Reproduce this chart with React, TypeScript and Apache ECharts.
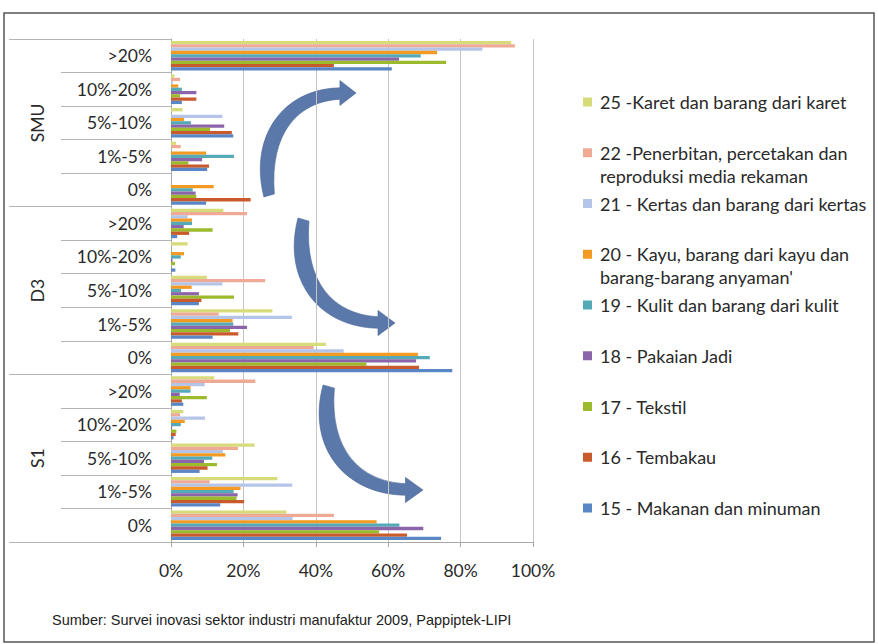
import React, { useEffect, useRef } from "react";
import * as echarts from "echarts";

// Categories, bottom to top (S1 0% ... SMU >20%)
const groups = ["S1", "D3", "SMU"];
const levels = ["0%", "1%-5%", "5%-10%", "10%-20%", ">20%"];
const xTicks = [0, 20, 40, 60, 80, 100];

const seriesNames = [
  "25 -Karet dan barang dari karet",
  "22 -Penerbitan, percetakan dan\nreproduksi media rekaman",
  "21 - Kertas dan barang dari kertas",
  "20 - Kayu, barang dari kayu dan\nbarang-barang anyaman'",
  "19 - Kulit dan barang dari kulit",
  "18 - Pakaian Jadi",
  "17 - Tekstil",
  "16 - Tembakau",
  "15 - Makanan dan minuman",
];

const seriesColors = [
  "#d6dc7a",
  "#efaa96",
  "#b5c5ea",
  "#f29a22",
  "#55aab8",
  "#8c64aa",
  "#9bba2c",
  "#c95a2b",
  "#5b86c6",
];

// values in %, order: S1(0%,1-5,5-10,10-20,>20), D3(...), SMU(...)
const v25 = [31.9, 29.4, 23.1, 3.4, 11.9, 42.8, 28, 9.9, 4.6, 14.5, 0, 1.4, 3.2, 1, 94];
const v22 = [45, 10.7, 18.5, 2.5, 23.3, 39.4, 13.2, 26, 0, 21, 0, 2.7, 0, 2.5, 95];
const v21 = [33.6, 33.5, 14.3, 9.4, 9.3, 47.7, 33.4, 14.2, 0, 4.6, 0, 0, 14.2, 0.5, 86];
const v20 = [56.8, 19.2, 15, 3.8, 5.4, 68.2, 17, 5.7, 3.6, 5.8, 11.8, 9.7, 3.6, 2, 73.5];
const v19 = [63.1, 17.3, 11.4, 2.7, 5.4, 71.5, 17.2, 2.8, 2.7, 5.8, 6, 17.4, 5.5, 3, 69];
const v18 = [69.7, 18.4, 9.1, 0.3, 2.4, 67.7, 21, 7.7, 0.4, 3.5, 6.8, 8.6, 14.7, 7, 63];
const v17 = [57.5, 18.1, 12.7, 1.5, 9.9, 54, 16.3, 17.4, 1.1, 11.5, 7, 4.8, 10.8, 2.5, 76];
const v16 = [65.2, 20.2, 10.1, 1.3, 3, 68.5, 18.6, 8.4, 0, 5, 22, 10.5, 16.8, 7, 45];
const v15 = [74.6, 13.6, 7.9, 0.7, 3.4, 77.7, 11.5, 7.7, 1.2, 1.7, 9.7, 10, 17.2, 3, 61];
const seriesValues = [v25, v22, v21, v20, v19, v18, v17, v16, v15];

const sourceText = "Sumber: Survei inovasi sektor industri manufaktur 2009, Pappiptek-LIPI";

const FONT = "Lato, 'Open Sans', sans-serif";
const ARROW_D =
  "M 2 0 C -14 58 22 104 82 105 L 82 112 L 99 100 L 82 88 L 82 94 C 38 92 8 62 13 3 Z";

let registered = false;

export default function App() {
  const ref = useRef<HTMLDivElement>(null);
  useEffect(() => {
    document.body.style.margin = "0";
    if (!registered) {
      echarts.graphic.registerShape("curvedArrow", echarts.graphic.extendPath(ARROW_D, {}) as any);
      registered = true;
    }
    const chart = echarts.init(ref.current!, null, { renderer: "svg" });
    const categories: string[] = [];
    groups.forEach((g) => levels.forEach((l) => categories.push(g + "|" + l)));

    const legendGraphics: any[] = [];
    seriesNames.forEach((name, i) => {
      const cy = 102 + i * 50.75;
      legendGraphics.push({
        type: "rect",
        shape: { x: 583, y: cy - 4.5, width: 9, height: 9 },
        style: { fill: seriesColors[i] },
      });
      legendGraphics.push({
        type: "text",
        style: {
          text: name,
          x: 600,
          y: cy - 11.5,
          verticalAlign: "top",
          font: `18px ${FONT}`,
          lineHeight: 23,
          fill: "#2a2a2a",
        },
      });
    });

    const arrowStyle = { fill: "#5a78aa", stroke: "#4a6696", lineWidth: 0.6 };

    const option: any = {
      animation: false,
      backgroundColor: "#ffffff",
      grid: { left: 171, right: 345, top: 39, bottom: 102, containLabel: false },
      xAxis: {
        type: "value",
        min: xTicks[0],
        max: xTicks[xTicks.length - 1],
        interval: 20,
        axisLabel: {
          formatter: "{value}%",
          fontSize: 17.5,
          fontFamily: FONT,
          color: "#2a2a2a",
          margin: 19,
        },
        axisLine: { show: true, lineStyle: { color: "#a8a8a8" } },
        axisTick: { show: true, length: 5, lineStyle: { color: "#a8a8a8" } },
        splitLine: { show: true, lineStyle: { color: "#c4c4c4" } },
      },
      yAxis: [
        {
          type: "category",
          position: "left",
          data: categories,
          axisLabel: {
            formatter: (v: string) => v.split("|")[1],
            fontSize: 17.5,
            fontFamily: FONT,
            color: "#2a2a2a",
            margin: 19,
            interval: 0,
          },
          axisLine: { show: true, lineStyle: { color: "#a8a8a8" } },
          axisTick: { show: true, length: 110, interval: 0, lineStyle: { color: "#b4b4b4" } },
          splitLine: { show: false },
        },
        {
          type: "category",
          position: "left",
          data: groups,
          axisLabel: {
            rotate: 90,
            fontSize: 17.5,
            fontFamily: FONT,
            color: "#2a2a2a",
            margin: 125,
          },
          axisLine: { show: false },
          axisTick: { show: true, length: 162, interval: 0, lineStyle: { color: "#b4b4b4" } },
          splitLine: { show: false },
        },
      ],
      series: seriesNames.map((name, i) => ({
        type: "bar",
        name,
        yAxisIndex: 0,
        data: seriesValues[i],
        itemStyle: { color: seriesColors[i] },
        barGap: "0%",
        barCategoryGap: "12%",
      })),
      graphic: [
        {
          type: "rect",
          shape: { x: 4, y: 13, width: 870, height: 629 },
          style: { fill: "none", stroke: "#555555", lineWidth: 1.5 },
          silent: true,
        },
        ...legendGraphics,
        {
          type: "text",
          style: {
            text: sourceText,
            x: 52,
            y: 620,
            verticalAlign: "middle",
            font: "14.5px 'Liberation Sans', Arial, sans-serif",
            fill: "#222222",
          },
        },
        { type: "curvedArrow", x: 262, y: 197, scaleX: 0.95, scaleY: -1.04, style: arrowStyle },
        { type: "curvedArrow", x: 296, y: 218, scaleX: 1.0, scaleY: 1.05, style: arrowStyle },
        { type: "curvedArrow", x: 321, y: 385, scaleX: 1.03, scaleY: 1.05, style: arrowStyle },
      ],
    };
    chart.setOption(option);
    return () => chart.dispose();
  }, []);
  return <div ref={ref} style={{ width: 878, height: 644 }} />;
}
